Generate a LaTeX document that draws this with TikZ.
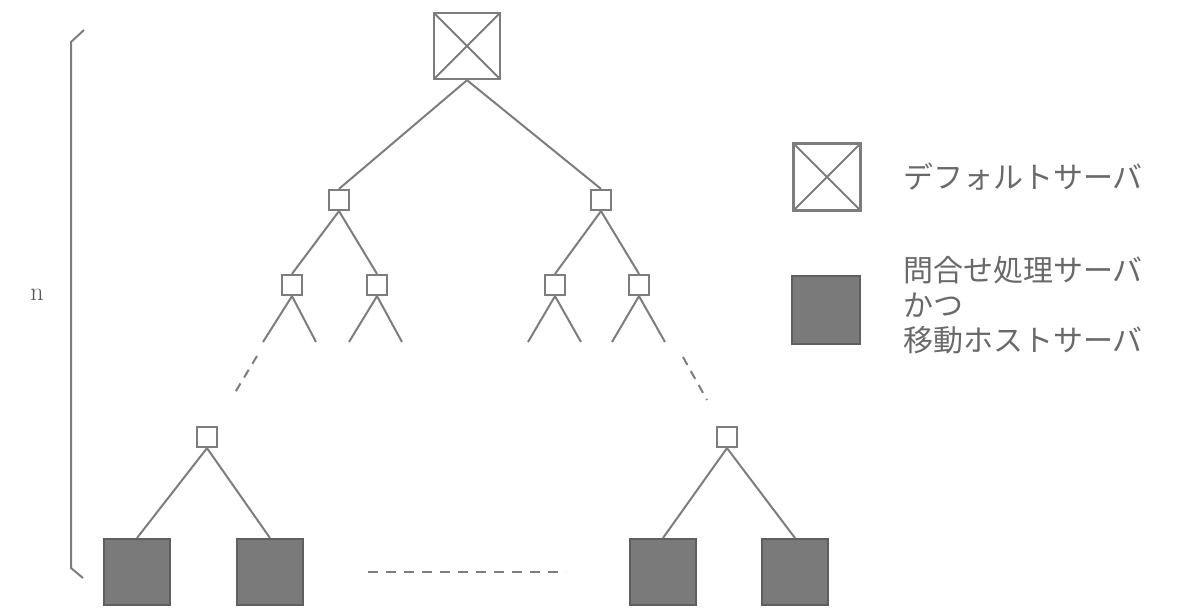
\documentclass[tikz,border=0pt]{standalone}
\usepackage{fontspec}
\newfontfamily\jp{Noto Sans CJK JP}
\definecolor{lc}{RGB}{125,125,125}
\definecolor{tc}{RGB}{105,105,105}
\definecolor{fc}{RGB}{122,122,122}
\definecolor{bc}{RGB}{95,95,95}
\begin{document}
\begin{tikzpicture}[x=1pt,y=-1pt,
  edge/.style={draw=lc, line width=2pt},
  dsh/.style={draw=lc, line width=2pt, dash pattern=on 9pt off 7pt},
  smallbox/.style={draw=lc, line width=2.2pt, minimum size=20pt, inner sep=0pt, fill=white},
  xbox/.style={draw=lc, line width=2.4pt, minimum size=66pt, inner sep=0pt,
    path picture={\draw[lc, line width=2pt] (path picture bounding box.north west) -- (path picture bounding box.south east)
      (path picture bounding box.north east) -- (path picture bounding box.south west);}},
  fbox/.style={draw=bc, line width=2pt, fill=fc, minimum size=66pt, inner sep=0pt},
  lab/.style={text=tc, font=\jp\fontsize{30}{35}\selectfont, anchor=west, align=left, inner sep=0pt}
]
\useasboundingbox (0,0) rectangle (1194,608);
% tree nodes
\node[xbox] (root) at (467,46) {};
\node[smallbox] (a) at (339,200) {};
\node[smallbox] (b) at (601,200) {};
\node[smallbox] (aa) at (292,285) {};
\node[smallbox] (ab) at (377,285) {};
\node[smallbox] (ba) at (555,285) {};
\node[smallbox] (bb) at (639,285) {};
\node[smallbox] (l) at (207,437) {};
\node[smallbox] (r) at (727,437) {};
\node[fbox] (L1) at (137,572) {};
\node[fbox] (L2) at (270,572) {};
\node[fbox] (R1) at (663,572) {};
\node[fbox] (R2) at (795,572) {};
% free ends
\coordinate (aa1) at (263,342); \coordinate (aa2) at (316,342);
\coordinate (ab1) at (349,342); \coordinate (ab2) at (402,342);
\coordinate (ba1) at (528,342); \coordinate (ba2) at (581,342);
\coordinate (bb1) at (612,342); \coordinate (bb2) at (665,342);
\coordinate (d1s) at (257,356); \coordinate (d1e) at (233,396);
\coordinate (d2s) at (683,357); \coordinate (d2e) at (707,400);
\coordinate (hs) at (368,572); \coordinate (he) at (566,572);
% edges
\draw[edge] (root.south) -- (a.north);
\draw[edge] (root.south) -- (b.north);
\draw[edge] (a.south) -- (aa.north);
\draw[edge] (a.south) -- (ab.north);
\draw[edge] (b.south) -- (ba.north);
\draw[edge] (b.south) -- (bb.north);
\draw[edge] (aa.south) -- (aa1); \draw[edge] (aa.south) -- (aa2);
\draw[edge] (ab.south) -- (ab1); \draw[edge] (ab.south) -- (ab2);
\draw[edge] (ba.south) -- (ba1); \draw[edge] (ba.south) -- (ba2);
\draw[edge] (bb.south) -- (bb1); \draw[edge] (bb.south) -- (bb2);
\draw[dsh] (d1s) -- (d1e);
\draw[dsh] (d2s) -- (d2e);
\draw[edge] (l.south) -- (L1.north);
\draw[edge] (l.south) -- (L2.north);
\draw[edge] (r.south) -- (R1.north);
\draw[edge] (r.south) -- (R2.north);
\draw[draw=lc, line width=2pt, dash pattern=on 10pt off 8pt] (hs) -- (he);
% brace
\coordinate (b1) at (84,30); \coordinate (b2) at (71,42);
\coordinate (b3) at (71,568); \coordinate (b4) at (83,578);
\draw[edge, line join=round] (b1) -- (b2) -- (b3) -- (b4);
\node[text=tc!80!black, font=\fontsize{26}{30}\selectfont, inner sep=0pt] (n) at (37,295) {n};
% legend
\node[xbox, minimum size=67pt] (lx) at (827,177) {};
\node[fbox, minimum size=68pt] (lf) at (826,310) {};
\node[lab] (lxt) at (903,177) {デフォルトサーバ};
\node[lab] (lft) at (903,305) {問合せ処理サーバ\\かつ\\移動ホストサーバ};
\end{tikzpicture}
\end{document}
